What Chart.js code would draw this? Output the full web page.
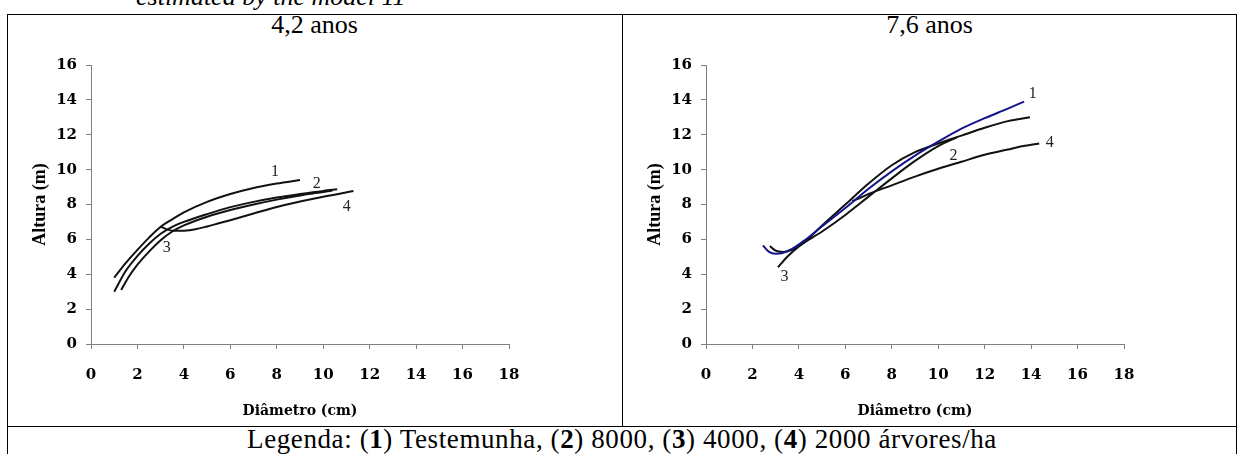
<!DOCTYPE html>
<html><head><meta charset="utf-8">
<script src="https://cdn.jsdelivr.net/npm/chart.js@4.4.0/dist/chart.umd.min.js"></script>
<style>
html,body{margin:0;padding:0;background:#fff;}
body{width:1242px;height:454px;position:relative;overflow:hidden;}
.ln{position:absolute;background:#000;}
.t{position:absolute;white-space:nowrap;color:#000;font-family:"Liberation Serif","Times New Roman",serif;font-size:26px;line-height:26px;}
canvas{position:absolute;}
</style></head><body>
<div class="t" style="left:136px;top:-16px;font-style:italic;">estimated by the model 11</div>
<div class="ln" style="left:7px;top:14px;width:1230px;height:1px"></div>
<div class="ln" style="left:7px;top:14px;width:1px;height:440px"></div>
<div class="ln" style="left:1236px;top:14px;width:1px;height:440px"></div>
<div class="ln" style="left:622px;top:14px;width:1px;height:412px"></div>
<div class="ln" style="left:7px;top:426px;width:1230px;height:1px"></div>
<div class="t" style="left:7px;width:615px;text-align:center;top:12px;">4,2 anos</div>
<div class="t" style="left:622px;width:615px;text-align:center;top:12px;">7,6 anos</div>
<div class="t" style="left:7px;width:1230px;text-align:center;top:426px;font-size:27px;line-height:27px;letter-spacing:0.6px;">Legenda: (<b>1</b>) Testemunha, (<b>2</b>) 8000, (<b>3</b>) 4000, (<b>4</b>) 2000 árvores/ha</div>
<canvas id="c1" width="612" height="384" style="left:8px;top:40px;"></canvas>
<canvas id="c2" width="612" height="384" style="left:623px;top:40px;"></canvas>
<script>
// ---- 4,2 anos ----
const a42_1x = [1.0, 1.5, 2.0, 2.5, 3.0, 3.5, 4, 5, 6, 7, 8, 9];
const a42_1y = [3.8, 4.65, 5.4, 6.1, 6.72, 7.15, 7.55, 8.15, 8.6, 8.95, 9.2, 9.4];
const a42_2x = [1.0, 1.5, 2.0, 2.5, 3.0, 3.5, 4, 5, 6, 7, 8, 9, 10, 10.6];
const a42_2y = [3.0, 4.2, 5.05, 5.75, 6.32, 6.72, 7.0, 7.45, 7.85, 8.15, 8.4, 8.6, 8.78, 8.87];
const a42_3x = [1.3, 1.6, 2.0, 2.5, 3.0, 3.5, 4, 5, 6, 7, 8, 9, 10, 10.4];
const a42_3y = [3.1, 3.8, 4.55, 5.3, 5.95, 6.45, 6.8, 7.3, 7.68, 8.0, 8.28, 8.52, 8.72, 8.8];
const a42_4x = [3.0, 3.3, 3.6, 4.0, 4.5, 5.0, 5.5, 6, 7, 8, 9, 10, 11.3];
const a42_4y = [6.73, 6.56, 6.49, 6.5, 6.58, 6.74, 6.92, 7.1, 7.48, 7.86, 8.17, 8.45, 8.77];
const a42_labelX = [7.92, 9.72, 3.26, 11.01];
const a42_labelY = [9.88, 9.21, 5.54, 7.84];
// ---- 7,6 anos ----
const a76_1x = [2.45, 2.7, 3.0, 3.3, 3.7, 4.2, 5, 6, 7, 8, 9, 10, 11, 12, 13, 13.7];
const a76_1y = [5.65, 5.3, 5.18, 5.22, 5.45, 5.9, 6.75, 7.8, 8.9, 9.9, 10.8, 11.6, 12.35, 12.95, 13.5, 13.9];
const a76_2x = [2.75, 3.0, 3.3, 3.7, 4.2, 5, 6, 7, 8, 9, 10, 11, 12, 13, 13.95];
const a76_2y = [5.62, 5.35, 5.28, 5.4, 5.8, 6.8, 8.0, 9.2, 10.25, 11.0, 11.5, 11.95, 12.4, 12.78, 13.0];
const a76_3x = [3.1, 3.5, 4, 5, 6, 7, 8, 9, 10, 10.8];
const a76_3y = [4.4, 5.0, 5.6, 6.45, 7.4, 8.45, 9.5, 10.5, 11.35, 11.85];
const a76_4x = [6.3, 6.6, 7, 8, 9, 10, 11, 12, 13, 13.5, 14.35];
const a76_4y = [8.2, 8.35, 8.6, 9.1, 9.6, 10.05, 10.45, 10.85, 11.15, 11.31, 11.5];
const a76_labelX = [14.07, 10.66, 3.38, 14.8];
const a76_labelY = [14.33, 10.78, 3.86, 11.53];
const curveNames = ['1', '2', '3', '4'];
const xTitle = 'Diâmetro (cm)';
const yTitle = 'Altura (m)';

const labelPlugin = {
  id: 'curveLabels',
  afterDatasetsDraw(chart, args, opts) {
    const ctx = chart.ctx, xs = chart.scales.x, ys = chart.scales.y;
    ctx.save();
    ctx.font = '16px "Liberation Serif"';
    ctx.fillStyle = '#222';
    ctx.textAlign = 'center';
    ctx.textBaseline = 'middle';
    opts.lx.forEach((v, i) => {
      ctx.fillText(curveNames[i], xs.getPixelForValue(v), ys.getPixelForValue(opts.ly[i]));
    });
    ctx.restore();
  }
};

function build(id, xs, ys, colors, lx, ly) {
  const datasets = xs.map((xa, i) => ({
    data: xa.map((v, j) => ({x: v, y: ys[i][j]})),
    borderColor: colors[i], borderWidth: 2, showLine: true, pointRadius: 0,
    fill: false, cubicInterpolationMode: 'monotone'
  }));
  const tickFont = {family: 'DejaVu Serif', weight: 'bold', size: 15};
  const axisGrid = {drawOnChartArea: false, drawTicks: true, tickLength: 5, color: '#808080'};
  new Chart(document.getElementById(id), {
    type: 'scatter',
    data: {datasets},
    options: {
      responsive: false, animation: false, devicePixelRatio: 1,
      layout: {padding: {left: 0, right: 111, top: 25, bottom: 0}},
      plugins: {legend: {display: false}, tooltip: {enabled: false}, curveLabels: {lx, ly}},
      scales: {
        x: {
          type: 'linear', min: 0, max: 18,
          afterFit: s => { s.height = 80; },
          ticks: {stepSize: 2, font: tickFont, color: '#000', padding: 17, maxRotation: 0},
          grid: axisGrid,
          border: {display: true, color: '#808080', width: 1},
          title: {display: true, text: xTitle, color: '#000',
                  font: {family: 'DejaVu Serif', weight: 'bold', size: 14},
                  padding: {top: 0, bottom: 4}}
        },
        y: {
          type: 'linear', min: 0, max: 16,
          afterFit: s => { s.width = 83; },
          ticks: {stepSize: 2, font: tickFont, color: '#000', padding: 9},
          grid: axisGrid,
          border: {display: true, color: '#808080', width: 1},
          title: {display: true, text: yTitle, color: '#000',
                  font: {family: 'Liberation Serif', weight: 'bold', size: 18},
                  padding: {top: 22, bottom: 0}}
        }
      }
    },
    plugins: [labelPlugin]
  });
}

build('c1', [a42_1x, a42_2x, a42_3x, a42_4x], [a42_1y, a42_2y, a42_3y, a42_4y],
      ['#111', '#111', '#111', '#111'], a42_labelX, a42_labelY);
build('c2', [a76_1x, a76_2x, a76_3x, a76_4x], [a76_1y, a76_2y, a76_3y, a76_4y],
      ['#14148c', '#111', '#111', '#111'], a76_labelX, a76_labelY);
</script>
</body></html>
